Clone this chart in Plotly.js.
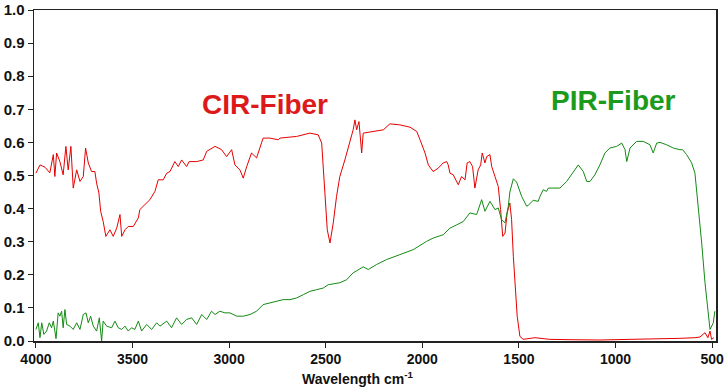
<!DOCTYPE html>
<html>
<head>
<meta charset="utf-8">
<script src="https://cdn.plot.ly/plotly-3.0.1.min.js"></script>
<style>html,body{margin:0;padding:0;background:#fff;}#chart{width:728px;height:391px;}</style>
</head>
<body>
<div id="chart"></div>
<script>
// CIR-Fiber (red) spectrum: wavenumber (cm-1) and value
const cirX = [4000,3979,3953,3928,3910,3902,3893,3876,3859,3845,3833,3819,3807,3789,3772,3755,3743,3729,3712,3695,
  3686,3674,3665,3652,3638,3617,3600,3582,3565,3556,3539,3522,3496,3470,3462,3436,3410,3384,3367,3341,
  3323,3306,3281,3263,3246,3220,3207,3168,3134,3116,3073,3039,3013,2987,2970,2944,2927,2909,2884,2858,
  2824,2789,2746,2737,2651,2582,2539,2521,2513,2504,2492,2478,2461,2444,2427,2401,2375,2358,2349,2340,
  2328,2314,2306,2254,2202,2168,2116,2064,2029,2012,1986,1969,1944,1918,1892,1874,1866,1857,1840,1814,
  1797,1779,1768,1754,1740,1728,1711,1698,1690,1676,1667,1650,1641,1624,1607,1595,1584,1572,1561,1547,
  1538,1529,1521,1509,1495,1478,1417,1340,1236,1081,925,770,667,589,563,537,522,511,503,491];
const cirY = [0.507,0.532,0.525,0.508,0.563,0.497,0.568,0.542,0.502,0.588,0.517,0.588,0.462,0.517,0.482,0.497,0.583,0.538,0.512,0.512,
  0.477,0.447,0.392,0.361,0.316,0.336,0.316,0.341,0.382,0.316,0.336,0.346,0.346,0.372,0.397,0.412,0.427,0.452,0.487,0.487,
  0.507,0.512,0.542,0.527,0.547,0.527,0.542,0.542,0.547,0.573,0.588,0.578,0.557,0.578,0.532,0.517,0.492,0.527,0.568,0.553,
  0.613,0.613,0.608,0.613,0.618,0.628,0.623,0.598,0.527,0.427,0.336,0.296,0.357,0.437,0.497,0.547,0.598,0.638,0.668,0.638,
  0.663,0.568,0.628,0.633,0.638,0.656,0.653,0.646,0.633,0.608,0.568,0.532,0.512,0.522,0.538,0.542,0.532,0.507,0.502,0.472,
  0.497,0.487,0.538,0.542,0.527,0.462,0.517,0.532,0.568,0.538,0.557,0.563,0.527,0.497,0.467,0.397,0.316,0.326,0.387,0.417,
  0.367,0.256,0.186,0.075,0.014,0.005,0.010,0.005,0.004,0.003,0.005,0.006,0.008,0.010,0.012,0.025,0.010,0.030,0.005,0.010];

// PIR-Fiber (green) spectrum
const pirX = [4000,3988,3979,3970,3959,3945,3931,3919,3910,3896,3885,3876,3867,3859,3850,3841,3824,3807,3789,3772,
  3755,3741,3729,3717,3703,3686,3672,3660,3652,3634,3608,3591,3574,3556,3539,3522,3505,3488,3470,3453,
  3427,3401,3375,3358,3323,3298,3272,3246,3220,3194,3168,3142,3116,3091,3073,3048,3022,2996,2961,2927,
  2892,2858,2824,2789,2754,2720,2685,2651,2616,2582,2547,2513,2487,2427,2392,2358,2306,2280,2237,2185,
  2116,2047,1978,1944,1892,1857,1822,1788,1754,1719,1693,1676,1650,1624,1607,1590,1572,1555,1547,1529,
  1512,1498,1486,1460,1452,1426,1400,1391,1374,1357,1348,1322,1288,1253,1219,1193,1167,1149,1132,1107,
  1081,1055,1029,994,968,951,942,925,891,857,822,805,787,770,736,701,667,653,632,606,
  589,572,554,537,520,511,494,486];
const pirY = [0.035,0.055,0.010,0.055,0.020,0.030,0.055,0.040,0.060,0.007,0.085,0.075,0.090,0.040,0.095,0.050,0.045,0.035,0.055,0.035,
  0.080,0.085,0.055,0.075,0.045,0.030,0.070,0.000,0.060,0.045,0.040,0.060,0.040,0.035,0.045,0.030,0.040,0.035,0.060,0.030,
  0.050,0.035,0.055,0.045,0.060,0.040,0.070,0.050,0.065,0.070,0.050,0.080,0.065,0.090,0.080,0.090,0.085,0.085,0.075,0.075,
  0.080,0.090,0.110,0.115,0.120,0.125,0.125,0.130,0.140,0.150,0.155,0.160,0.170,0.176,0.185,0.206,0.224,0.216,0.231,0.246,
  0.261,0.276,0.301,0.311,0.321,0.341,0.351,0.361,0.387,0.382,0.427,0.392,0.422,0.397,0.402,0.367,0.357,0.407,0.450,0.490,
  0.480,0.457,0.437,0.407,0.410,0.425,0.422,0.437,0.457,0.452,0.462,0.462,0.462,0.482,0.512,0.532,0.512,0.482,0.482,0.502,
  0.532,0.568,0.583,0.588,0.598,0.578,0.542,0.583,0.603,0.603,0.593,0.568,0.598,0.600,0.593,0.583,0.578,0.578,0.563,0.538,
  0.507,0.407,0.296,0.176,0.075,0.035,0.055,0.090];

const seriesNames = ['CIR-Fiber', 'PIR-Fiber'];
const xTitle = 'Wavelength cm<sup>-1</sup>';

const FONT = 'Arial, "Liberation Sans", sans-serif';
const RED = '#e60000', GREEN = '#138a13';

const traces = [
  {x: cirX, y: cirY, type: 'scatter', mode: 'lines', name: seriesNames[0], line: {color: RED, width: 1}},
  {x: pirX, y: pirY, type: 'scatter', mode: 'lines', name: seriesNames[1], line: {color: GREEN, width: 1}}
];

const layout = {
  width: 728, height: 391,
  margin: {l: 34, r: 12, t: 10, b: 50},
  paper_bgcolor: '#fff', plot_bgcolor: '#fff',
  showlegend: false,
  font: {family: FONT, color: '#111'},
  xaxis: {
    range: [4010, 480], dtick: 500, tick0: 0,
    showgrid: false, zeroline: false,
    showline: true, linecolor: '#222', linewidth: 1.5, mirror: true,
    ticks: 'outside', ticklen: 5, tickcolor: '#222', tickwidth: 1,
    tickfont: {family: FONT, size: 14, color: '#111', weight: 'bold'}
  },
  yaxis: {
    range: [0, 1], dtick: 0.1, tick0: 0, tickformat: '.1f',
    showgrid: false, zeroline: false,
    showline: true, linecolor: '#222', linewidth: 1.5, mirror: true,
    ticks: 'outside', ticklen: 5, tickcolor: '#222', tickwidth: 1,
    tickfont: {family: FONT, size: 15, color: '#111', weight: 'bold'}
  },
  annotations: [
    {x: 2815, y: 0.716, xref: 'x', yref: 'y', text: seriesNames[0], showarrow: false,
     font: {family: FONT, size: 28, color: '#dd1a1a', weight: 'bold'}},
    {x: 1013, y: 0.728, xref: 'x', yref: 'y', text: seriesNames[1], showarrow: false,
     font: {family: FONT, size: 28, color: '#1c9a1c', weight: 'bold'}},
    {x: 0.475, y: -0.112, xref: 'paper', yref: 'paper', text: xTitle, showarrow: false,
     yanchor: 'middle', font: {family: FONT, size: 14, color: '#111', weight: 'bold'}}
  ]
};

Plotly.newPlot('chart', traces, layout, {displayModeBar: false, staticPlot: true});
</script>
</body>
</html>
